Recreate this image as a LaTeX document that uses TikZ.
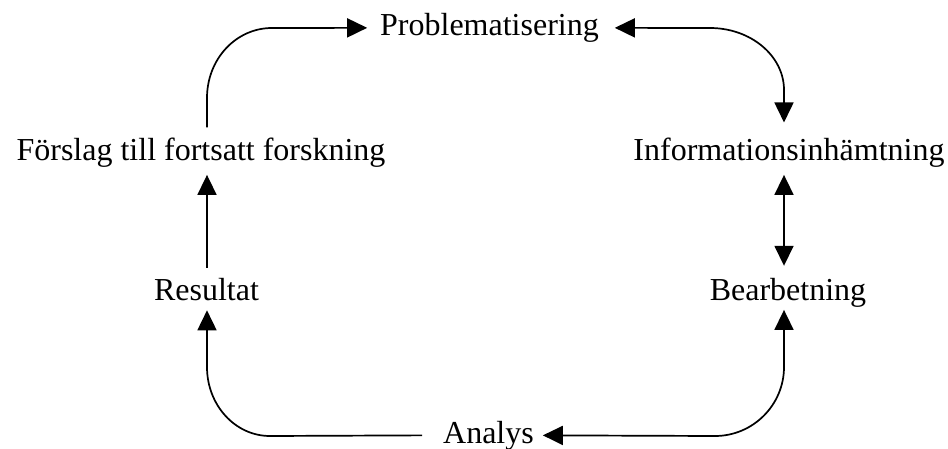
\documentclass[tikz,border=0pt]{standalone}
\usepackage{fontspec}
\setmainfont{Liberation Serif}
\usetikzlibrary{arrows.meta}
\tikzset{
  lbl/.style={anchor=base, inner sep=0pt, outer sep=0pt, font=\fontsize{32}{38}\selectfont},
  flow/.style={line width=1.7pt, -{Triangle[length=20pt,width=19pt]}},
  twoway/.style={line width=1.7pt, {Triangle[length=20pt,width=19pt]}-{Triangle[length=20pt,width=19pt]}}
}
\begin{document}
\begin{tikzpicture}[x=1pt,y=-1pt]
  \useasboundingbox (0,0) rectangle (948,449);

  % stages of the cycle
  \node[lbl] (prob) at (489.5,35.5) {Problematisering};
  \node[lbl] (info) at (789,161) {Informationsinhämtning};
  \node[lbl] (bear) at (788,300) {Bearbetning};
  \node[lbl] (anal) at (488.5,443) {Analys};
  \node[lbl] (res)  at (206.5,300) {Resultat};
  \node[lbl] (fors) at (201,161) {Förslag till fortsatt forskning};

  % vertical guide columns for the connectors
  \coordinate (colL) at (207,0);
  \coordinate (colR) at (784,0);

  % Resultat -> Förslag
  \draw[flow] ([yshift=10pt]res.north -| colL) -- ([yshift=-7pt]fors.south -| colL);

  % Förslag -> Problematisering
  \draw[flow] ([yshift=11pt]fors.north -| colL) -- (207,98)
     .. controls (207,59) and (236,28) .. (272,28) -- ([xshift=-13pt]prob.west);

  % Problematisering <-> Informationsinhämtning
  \draw[twoway] ([xshift=16pt]prob.east) -- (710,28)
     .. controls (751,28) and (784,56) .. (784,90) -- ([yshift=16pt]info.north -| colR);

  % Informationsinhämtning <-> Bearbetning
  \draw[twoway] ([yshift=-7pt]info.south -| colR) -- ([yshift=12pt]bear.north -| colR);

  % Analys -> Bearbetning (arrow tips at both ends)
  \draw[twoway] ([xshift=9pt]anal.east) -- (715,436)
     .. controls (753,436) and (784,405) .. (784,367) -- ([yshift=-3pt]bear.south -| colR);

  % Analys -> Resultat
  \draw[flow] ([xshift=-21pt]anal.west) -- (270,436)
     .. controls (235,436) and (207,405) .. (207,367) -- ([yshift=-10pt]res.south -| colL);
\end{tikzpicture}
\end{document}
